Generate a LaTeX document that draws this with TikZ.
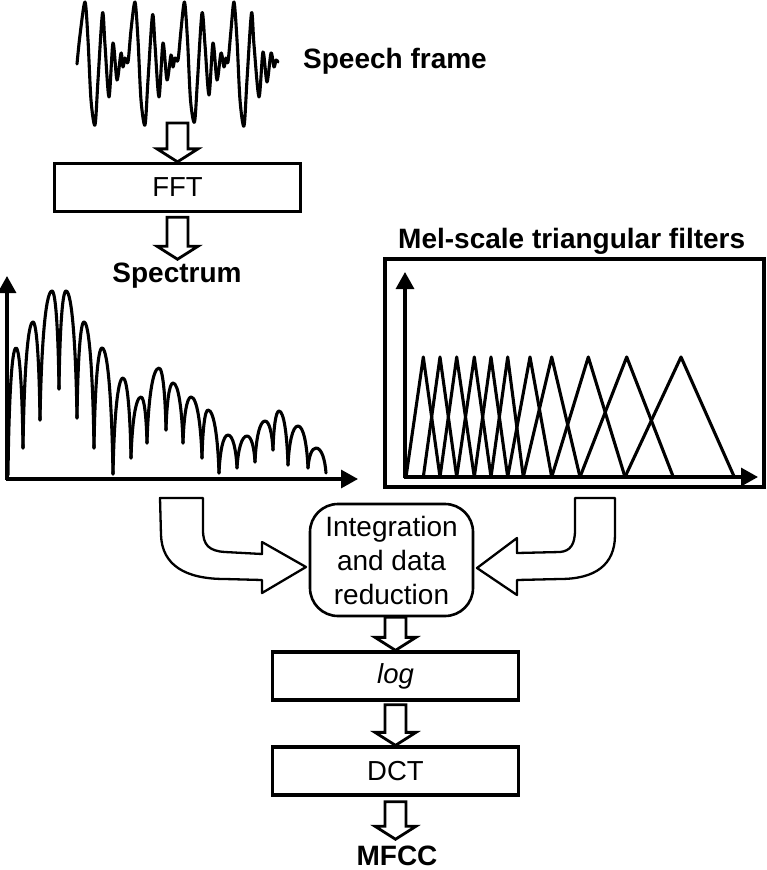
\documentclass[tikz,border=0pt]{standalone}
\usepackage{fontspec}
\setmainfont{Liberation Sans}
\usetikzlibrary{arrows.meta,calc}
\tikzset{
  box/.style={draw, line width=3.3pt, minimum width=246pt, minimum height=48pt, inner sep=0pt, font=\fontsize{27.5}{33}\selectfont},
  lbl/.style={font=\bfseries\fontsize{28}{34}\selectfont, inner sep=0pt},
  blockarrow/.style={draw, fill=white, line width=2.8pt, line join=miter},
  curvearrow/.style={draw, fill=white, line width=2.3pt, line join=round},
  axis/.style={line width=3.2pt, -{Triangle[length=17pt,width=18pt]}},
  sig/.style={line width=3.1pt, line join=round, line cap=round},
}
\newcommand\blockdown[2]{%
  \path[blockarrow] let \p1=#1, \p2=#2 in
    ({\x1-10.5pt},\y1) -- ({\x1-10.5pt},{\y2+13pt}) -- ({\x1-20.5pt},{\y2+13pt}) --
    (\x1,\y2) -- ({\x1+20.5pt},{\y2+13pt}) -- ({\x1+10.5pt},{\y2+13pt}) --
    ({\x1+10.5pt},\y1) -- cycle;}
\begin{document}
\begin{tikzpicture}[x=1pt,y=-1pt]
\useasboundingbox[fill=white] (0,0) rectangle (767,870);

% speech waveform
\draw[sig] plot[smooth,tension=0.5] coordinates {
(77,64) (80,35) (85,2) (88,40) (91,100) (95,125) (98,80) (102.5,13) (105,45) (109,97) (113,43) (117,80) (121,53) (123,67) (125,58) (128,62) (131,30)
(135,2) (138,40) (141,100) (145,125) (148,80) (152.5,15) (155,45) (159,97) (163,43) (167,80) (171,55) (173,67) (175,58) (178,60) (181,30)
(184.5,2) (187.5,40) (190.5,100) (194.5,122) (197.5,80) (202,13) (205,45) (209,95) (213,43) (217,80) (221,53) (224,67) (226,58) (228,62) (231,30)
(234,2) (237,40) (240,100) (244,126) (247,80) (251.5,13) (254,45) (259,97) (263,52) (267,82) (271,53) (274,67) (276,60) (278,62)};
\coordinate (wavebot) at (177.5,123);

\node[lbl, anchor=base west] (speech) at (303,68) {Speech frame};
\node[box] (fft) at (177.5,187.5) {FFT};
\node[lbl, anchor=base] (spec) at (177,282) {Spectrum};

% spectrum plot
\draw[axis] (7,480) -- (7,276);
\draw[axis] (6,479) -- (358,479);
\foreach \ax/\ay/\px/\py/\tx/\ty in {
8/475/16/348/23/448, 23/448/33/322/40/420, 40/420/52/291/59/389,
59/389/66/291/77/418, 77/418/84/322/94/448, 94/448/102/348/113/474,
113/474/123/378/131/458, 131/458/141/397/147/443, 147/443/159/368/166/430,
166/430/173/383/183/443, 183/443/191/397/202/458, 202/458/208/410/219/473,
219/473/228/435/237/468, 237/468/247/436/255/462, 255/462/265/421/273/450,
273/450/279/411/288/465, 288/465/298/426/308/468, 308/468/316/448/326/473}
  \draw[sig] (\ax,\ay) .. controls ({\ax+0.1*(\px-\ax)},{\ay-0.55*(\ay-\py)}) and ({\px-0.55*(\px-\ax)},\py) .. (\px,\py)
     .. controls ({\px+0.55*(\tx-\px)},\py) and ({\tx-0.1*(\tx-\px)},{\ty-0.55*(\ty-\py)}) .. (\tx,\ty);

% mel filter bank
\node[lbl, anchor=base west] (mel) at (398,248) {Mel-scale triangular filters};
\node[draw, line width=3.2pt, minimum width=379pt, minimum height=228pt, inner sep=0pt] (melbox) at (574.5,373) {};
\draw[axis] (405,478) -- (405,272);
\draw[axis] (404,477) -- (758,477);
\foreach \a/\p/\b in {406/423.3/440, 423.3/440/456.7, 440/456.7/474.3, 456.7/474.3/491,
  474.3/491/507.7, 491/507.7/523.3, 507.7/530/551.7, 523.3/551.7/580, 551.7/588.3/625,
  580/626.7/673.3, 625/681/734.3}
  \draw[sig] (\a,477) -- (\p,357) -- (\b,477);

% integration
\node[draw, line width=2.6pt, rounded corners=28pt, minimum width=163pt, minimum height=112pt,
  align=center, inner sep=0pt, font=\fontsize{28}{34}\selectfont] (integ) at (391.5,560)
  {Integration\\and data\\reduction};

% curved block arrows
\path[curvearrow] (160,498) -- (161,535) .. controls (162,565) and (185,579) .. (225,579)
  -- (262,580) -- (262,593) -- (306,567) -- (262,542) -- (262,554) -- (225,552)
  .. controls (209,551) and (203,545) .. (203,530) -- (203,498) -- cycle;
\path[curvearrow] (615,498) -- (615,535) .. controls (615,565) and (595,579) .. (560,579)
  -- (517,580) -- (517,595) -- (477,568) -- (517,538) -- (517,553) -- (560,552)
  .. controls (570,551) and (575,545) .. (575,530) -- (575,498) -- cycle;

\node[box] (log) at (395.5,676) {\itshape log};
\node[box] (dct) at (395.5,771) {DCT};
\node[lbl, anchor=base] (mfcc) at (397,865) {MFCC};

% straight block arrows
\blockdown{(wavebot)}{(fft.north)}
\blockdown{($(fft.south)+(0,4)$)}{($(spec.north)+(0,-3)$)}
\blockdown{(log.north |- integ.south)}{(log.north)}
\blockdown{($(log.south)+(0,3)$)}{(dct.north)}
\blockdown{($(dct.south)+(0,5)$)}{($(mfcc.north)+(0,-6)$)}
\end{tikzpicture}
\end{document}
